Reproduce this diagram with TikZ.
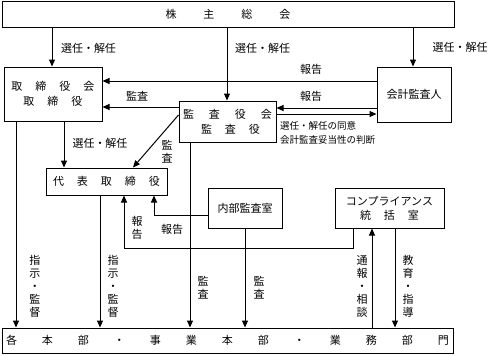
\documentclass[tikz,border=0pt]{standalone}
\usepackage{fontspec}
\setmainfont{Noto Sans CJK JP}
\usetikzlibrary{arrows.meta,calc}
\newcommand\gp[1]{\hspace{#1pt}}
\begin{document}
\begin{tikzpicture}[x=1pt,y=-1pt,
  every node/.style={font=\fontsize{11}{13}\selectfont},
  box/.style n args={2}{draw,line width=1pt,minimum width=#1,minimum height=#2,inner sep=0pt,align=center},
  lab/.style={inner sep=0pt,align=center},
  small/.style={inner sep=0pt,align=left,font=\fontsize{9.5}{14}\selectfont},
  arr/.style={-{Triangle[length=7pt,width=6pt]},line width=1pt},
  ln/.style={line width=1pt}
]
\useasboundingbox (0,0) rectangle (491,356);
% boxes
\node[box={452pt}{26pt}] (top) at (228,14) {株\gp{27}主\gp{27}総\gp{27}会};
\node[box={98pt}{54pt}] (tb) at (53,94) {取\gp{13}締\gp{13}役\gp{13}会\\[2pt]取\gp{13}締\gp{13}役};
\node[box={74pt}{55pt}] (kaikei) at (414,94.5) {会計監査人};
\node[box={97pt}{41pt}] (kansa) at (227.5,121.5) {監\gp{15}査\gp{15}役\gp{15}会\\[2pt]\gp{6}監\gp{13}査\gp{13}役};
\node[box={121pt}{27pt}] (daihyo) at (106.5,181.5) {代\gp{13}表\gp{13}取\gp{13}締\gp{13}役};
\node[box={74pt}{40pt}] (naibu) at (245,208) {内部監査室};
\node[box={109pt}{40pt}] (comp) at (389.5,208) {コンプライアンス\\[1pt]統\gp{13}括\gp{13}室};
\node[box={451pt}{25pt}] (bottom) at (227.5,340.5) {各\gp{25}本\gp{25}部\gp{25}・\gp{25}事\gp{25}業\gp{25}本\gp{25}部\gp{25}・\gp{25}業\gp{25}務\gp{25}部\gp{25}門};
% helper coordinates
\foreach \x in {16,52,64,100,124,133,154,190,227,245,353,372,395,413} {\coordinate (X\x) at (\x,0);}
\foreach \y in {81,107,108,114,115,215,248} {\coordinate (Y\y) at (0,\y);}
% connectors
\draw[arr] (top.south -| X52) -- (tb.north -| X52);
\draw[arr] (top.south -| X227) -- (kansa.north -| X227);
\draw[arr] (top.south -| X413) -- (kaikei.north -| X413);
\draw[arr] (kaikei.west |- Y81) -- (tb.east |- Y81);
\draw[arr] (kansa.west |- Y107) -- (tb.east |- Y107);
\draw[arr] (kaikei.west |- Y108) -- (kansa.east |- Y108);
\draw[arr] (kansa.east |- Y114) -- (kaikei.west |- Y114);
\draw[arr] (tb.south -| X64) -- (daihyo.north -| X64);
\draw[arr] (kansa.west |- Y115) -- (daihyo.north -| X133);
\draw[arr] (tb.south -| X16) -- (bottom.north -| X16);
\draw[arr] (daihyo.south -| X100) -- (bottom.north -| X100);
\draw[arr] (kansa.south -| X190) -- (bottom.north -| X190);
\draw[arr] (naibu.west |- Y215) -| (daihyo.south -| X154);
\draw[arr] (naibu.south -| X245) -- (bottom.north -| X245);
\draw[arr] (comp.south -| X353) -- (X353 |- Y248) -| (daihyo.south -| X124);
\draw[arr] (bottom.north -| X372) -- (comp.south -| X372);
\draw[arr] (comp.south -| X395) -- (bottom.north -| X395);
% labels
\node[lab] (l1) at (88.5,48) {選任・解任};
\node[lab] (l2) at (262.5,48) {選任・解任};
\node[lab] (l3) at (460,47) {選任・解任};
\node[lab] (l4) at (311,69) {報告};
\node[lab] (l5) at (137,96) {監査};
\node[lab] (l6) at (311,96) {報告};
\node[lab] (l7) at (100,143) {選任・解任};
\node[lab] (l8) at (167,152) {監\\査};
\node[small,anchor=west] (l9) at (280,133) {選任・解任の同意\\会計監査妥当性の判断};
\node[lab] (l10) at (137,228) {報\\告};
\node[lab] (l11) at (172,229) {報告};
\node[lab] (l12) at (35,286) {指\\示\\・\\監\\督};
\node[lab] (l13) at (113,286) {指\\示\\・\\監\\督};
\node[lab] (l14) at (203,288) {監\\査};
\node[lab] (l15) at (259,288) {監\\査};
\node[lab] (l16) at (362,286) {通\\報\\・\\相\\談};
\node[lab] (l17) at (408,286) {教\\育\\・\\指\\導};
\end{tikzpicture}
\end{document}
